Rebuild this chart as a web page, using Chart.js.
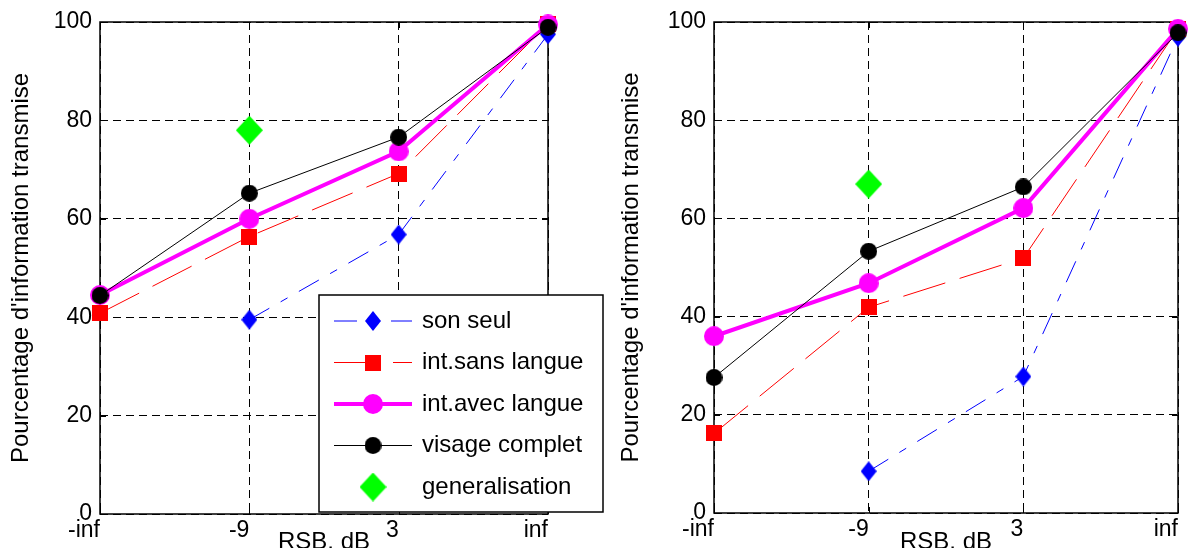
<!DOCTYPE html>
<html>
<head>
<meta charset="utf-8">
<script src="https://cdn.jsdelivr.net/npm/chart.js@4.4.1/dist/chart.umd.min.js"></script>
<style>
    body { margin: 0; background: #fff; width: 1188px; height: 548px; overflow: hidden; position: relative; }
    canvas { position: absolute; top: 0; }
    #leftChart { left: 0; }
    #rightChart { left: 604px; }
</style>
</head>
<body>
<canvas id="leftChart" width="604" height="548"></canvas>
<canvas id="rightChart" width="584" height="548"></canvas>
<script>
/* Data START */
var snrLabels = ['-inf', '-9', '3', 'inf'];
var seriesNames = ['son seul', 'int.sans langue', 'int.avec langue', 'visage complet', 'generalisation'];
var yTicks = [0, 20, 40, 60, 80, 100];

// left panel
var leftSonSeul = [null, 39.5, 56.8, 97.5];
var leftSansLangue = [40.8, 56.4, 69.2, 99.6];
var leftAvecLangue = [44.5, 60.0, 73.7, 99.5];
var leftVisage = [44.4, 65.2, 76.6, 98.9];
var leftGeneralisation = [null, 78.0, null, null];

// right panel
var rightSonSeul = [null, 8.5, 27.8, 97.0];
var rightSansLangue = [16.2, 41.9, 51.9, 98.6];
var rightAvecLangue = [36.0, 46.8, 62.1, 98.6];
var rightVisage = [27.6, 53.3, 66.4, 97.8];
var rightGeneralisation = [null, 67.0, null, null];
/* Data END */

var fontFamily = "'Liberation Sans', Arial, Helvetica, sans-serif";

function makeMarker(shape, w, h, color) {
    var c = document.createElement('canvas');
    c.width = w;
    c.height = h;
    var ctx = c.getContext('2d');
    ctx.fillStyle = color;
    ctx.beginPath();
    if (shape === 'diamond') {
        ctx.moveTo(w / 2, 0);
        ctx.lineTo(w, h / 2);
        ctx.lineTo(w / 2, h);
        ctx.lineTo(0, h / 2);
    } else if (shape === 'square') {
        ctx.rect(0, 0, w, h);
    } else {
        ctx.arc(w / 2, h / 2, w / 2, 0, Math.PI * 2);
    }
    ctx.closePath();
    ctx.fill();
    return c;
}

var seriesStyles = [
    {color: '#0000ff', width: 1, dash: [23, 13, 8, 13], marker: makeMarker('diamond', 16, 20, '#0000ff')},
    {color: '#ff0000', width: 1, dash: [44, 15], marker: makeMarker('square', 16, 16, '#ff0000')},
    {color: '#ff00ff', width: 4, dash: [], marker: makeMarker('circle', 20, 20, '#ff00ff')},
    {color: '#000000', width: 1, dash: [], marker: makeMarker('circle', 17, 17, '#000000')},
    {color: '#00ff00', width: 0, dash: [], marker: makeMarker('diamond', 27, 29, '#00ff00'), noLine: true}
];

// box around the axes + small inward ticks (matlab look)
var framePlugin = {
    id: 'frame',
    beforeDatasetsDraw: function(chart) {
        var a = chart.chartArea;
        var ctx = chart.ctx;
        ctx.save();
        ctx.strokeStyle = '#000';
        ctx.lineWidth = 1.5;
        ctx.strokeRect(a.left, a.top, a.right - a.left, a.bottom - a.top);
        ctx.lineWidth = 1;
        ctx.beginPath();
        chart.scales.x.ticks.forEach(function(t, i) {
            var x = Math.round(chart.scales.x.getPixelForTick(i)) + 0.5;
            ctx.moveTo(x, a.bottom); ctx.lineTo(x, a.bottom - 6);
            ctx.moveTo(x, a.top); ctx.lineTo(x, a.top + 6);
        });
        chart.scales.y.ticks.forEach(function(t, i) {
            var y = Math.round(chart.scales.y.getPixelForTick(i)) + 0.5;
            ctx.moveTo(a.left, y); ctx.lineTo(a.left + 6, y);
            ctx.moveTo(a.right, y); ctx.lineTo(a.right - 6, y);
        });
        ctx.stroke();
        ctx.restore();
    }
};

var boxLegendPlugin = {
    id: 'boxLegend',
    afterDatasetsDraw: function(chart, args, opts) {
        if (!opts.show) return;
        var ctx = chart.ctx;
        ctx.save();
        ctx.fillStyle = '#fff';
        ctx.fillRect(opts.left, opts.top, opts.width, opts.height);
        ctx.strokeStyle = '#000';
        ctx.lineWidth = 1.5;
        ctx.strokeRect(opts.left, opts.top, opts.width, opts.height);
        chart.data.datasets.forEach(function(ds, i) {
            var y = opts.top + opts.firstRow + i * opts.rowGap;
            if (ds.showLine !== false) {
                ctx.beginPath();
                ctx.setLineDash(ds.borderDash || []);
                ctx.strokeStyle = ds.borderColor;
                ctx.lineWidth = ds.borderWidth;
                ctx.moveTo(opts.left + opts.lineStart, y);
                ctx.lineTo(opts.left + opts.lineEnd, y);
                ctx.stroke();
                ctx.setLineDash([]);
            }
            var m = ds.pointStyle;
            var mx = opts.left + (opts.lineStart + opts.lineEnd) / 2;
            ctx.drawImage(m, mx - m.width / 2, y - m.height / 2);
            ctx.fillStyle = '#000';
            ctx.font = opts.fontSize + 'px ' + fontFamily;
            ctx.textBaseline = 'middle';
            ctx.textAlign = 'left';
            ctx.fillText(ds.label, opts.left + opts.textStart, y);
        });
        ctx.restore();
    }
};

function buildChart(canvasId, series, layout) {
    var datasets = series.map(function(values, i) {
        var st = seriesStyles[i];
        return {
            label: seriesNames[i],
            data: values,
            borderColor: st.color,
            backgroundColor: st.color,
            borderWidth: st.width,
            borderDash: st.dash,
            pointStyle: st.marker,
            pointRadius: 10,
            pointBorderWidth: 0,
            showLine: !st.noLine,
            spanGaps: true,
            tension: 0,
            clip: false,
            order: series.length - i
        };
    });

    return new Chart(canvasId, {
        type: 'line',
        data: {
            labels: snrLabels,
            datasets: datasets
        },
        options: {
            responsive: false,
            animation: false,
            devicePixelRatio: 1,
            events: [],
            layout: {
                padding: {top: 22, right: layout.padRight, left: 0, bottom: 0}
            },
            plugins: {
                legend: {display: false},
                tooltip: {enabled: false},
                boxLegend: layout.legend
            },
            scales: {
                x: {
                    type: 'category',
                    offset: false,
                    grid: {color: '#000', lineWidth: 1, drawTicks: false},
                    border: {display: false, dash: [8, 5]},
                    ticks: {
                        color: '#000',
                        font: {family: fontFamily, size: 23},
                        align: 'end',
                        padding: 2.5,
                        autoSkip: false,
                        maxRotation: 0
                    },
                    title: {
                        display: true,
                        text: 'RSB, dB',
                        color: '#000',
                        font: {family: fontFamily, size: 24},
                        padding: {top: 0, bottom: -8.6}
                    },
                    afterFit: function(s) { s.height = layout.xHeight; }
                },
                y: {
                    min: 0,
                    max: 100,
                    afterBuildTicks: function(s) {
                        s.ticks = yTicks.map(function(v) { return {value: v}; });
                    },
                    grid: {color: '#000', lineWidth: 1, drawTicks: false},
                    border: {display: false, dash: [8, 5]},
                    ticks: {
                        color: '#000',
                        font: {family: fontFamily, size: 23},
                        padding: 8
                    },
                    title: {
                        display: true,
                        text: "Pourcentage d'information transmise",
                        color: '#000',
                        font: {family: fontFamily, size: 24},
                        padding: {top: layout.yTitlePad, bottom: 0}
                    },
                    afterFit: function(s) { s.width = layout.yWidth; }
                }
            }
        },
        plugins: [framePlugin, boxLegendPlugin]
    });
}

var leftChart = buildChart('leftChart',
    [leftSonSeul, leftSansLangue, leftAvecLangue, leftVisage, leftGeneralisation],
    {
        padRight: 56, xHeight: 34, yWidth: 100, yTitlePad: 6.9,
        legend: {show: true, left: 319, top: 295, width: 284, height: 217,
                 firstRow: 26, rowGap: 41.5, lineStart: 15, lineEnd: 93, textStart: 103, fontSize: 24}
    });

var rightChart = buildChart('rightChart',
    [rightSonSeul, rightSansLangue, rightAvecLangue, rightVisage, rightGeneralisation],
    {
        padRight: 9, xHeight: 35, yWidth: 110, yTitlePad: 13.3,
        legend: {show: false}
    });
</script>
</body>
</html>
